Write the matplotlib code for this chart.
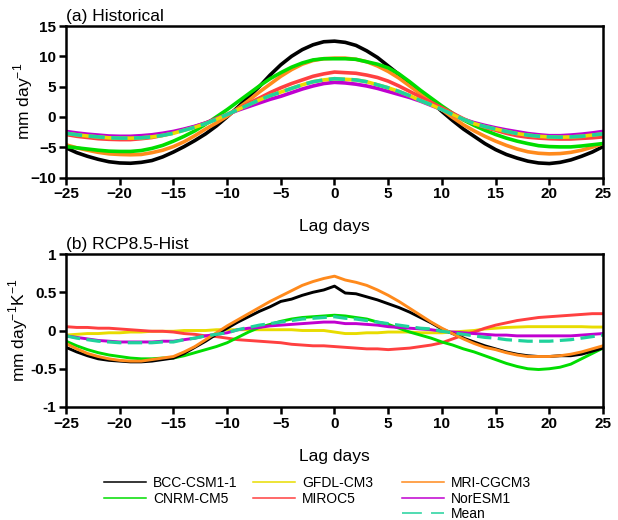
import matplotlib
matplotlib.use("Agg")
import matplotlib.pyplot as plt
from matplotlib.lines import Line2D
import numpy as np

plt.rcParams['font.family'] = ['Liberation Sans', 'DejaVu Sans']

lags = np.arange(-25, 26)

# (a) Historical, mm/day, lag -25..25
hist_bcc = [-5.1, -5.9, -6.5, -7.0, -7.4, -7.6, -7.65, -7.5, -7.2, -6.6, -5.8,
            -4.9, -3.9, -2.8, -1.5, 0.0, 1.6, 3.3, 5.0, 6.9, 8.6,
            10.0, 11.1, 11.9, 12.4, 12.5, 12.3, 11.8, 10.9, 9.8, 8.4,
            7.0, 5.5, 4.0, 2.5, 0.9, -0.6, -2.0, -3.2, -4.4, -5.4,
            -6.2, -6.8, -7.3, -7.6, -7.7, -7.5, -7.1, -6.5, -5.8, -4.9]
hist_cnrm = [-4.9, -5.1, -5.3, -5.5, -5.65, -5.7, -5.7, -5.55, -5.2, -4.7, -4.0,
             -3.2, -2.3, -1.2, 0.0, 1.2, 2.5, 3.8, 5.1, 6.3, 7.3,
             8.2, 8.9, 9.4, 9.6, 9.6, 9.6, 9.5, 9.1, 8.7, 8.1,
             7.1, 5.8, 4.4, 3.1, 1.8, 0.6, -0.5, -1.4, -2.2, -2.9,
             -3.5, -4.0, -4.4, -4.75, -4.9, -4.95, -4.95, -4.8, -4.6, -4.4]
hist_gfdl = [-2.7, -2.95, -3.15, -3.3, -3.45, -3.5, -3.5, -3.45, -3.3, -3.05, -2.7,
             -2.2, -1.7, -1.1, -0.4, 0.4, 1.2, 2.0, 2.8, 3.5, 4.1,
             4.7, 5.3, 5.8, 6.1, 6.3, 6.2, 6.1, 5.8, 5.3, 4.8,
             4.2, 3.5, 2.7, 2.0, 1.2, 0.4, -0.4, -1.1, -1.6, -2.0,
             -2.4, -2.75, -3.0, -3.2, -3.3, -3.35, -3.3, -3.2, -3.0, -2.8]
hist_miroc = [-2.9, -3.2, -3.4, -3.6, -3.7, -3.75, -3.75, -3.6, -3.4, -3.05, -2.6,
              -2.1, -1.6, -1.0, -0.3, 0.4, 1.3, 2.2, 3.1, 4.0, 4.8,
              5.5, 6.1, 6.7, 7.1, 7.4, 7.3, 7.2, 6.9, 6.5, 5.9,
              5.1, 4.2, 3.3, 2.4, 1.5, 0.6, -0.3, -1.1, -1.7, -2.2,
              -2.7, -3.1, -3.35, -3.5, -3.6, -3.65, -3.65, -3.55, -3.45, -3.3]
hist_mri = [-4.6, -5.1, -5.5, -5.85, -6.1, -6.2, -6.25, -6.2, -5.9, -5.5, -4.9,
            -4.1, -3.1, -2.0, -1.0, 0.1, 1.4, 2.7, 4.1, 5.4, 6.7,
            7.8, 8.7, 9.3, 9.6, 9.7, 9.7, 9.5, 9.1, 8.4, 7.5,
            6.4, 5.1, 3.8, 2.5, 1.2, -0.1, -1.3, -2.3, -3.2, -4.0,
            -4.7, -5.3, -5.75, -6.0, -6.1, -6.05, -5.85, -5.5, -5.0, -4.4]
hist_nor = [-2.4, -2.65, -2.85, -3.0, -3.15, -3.2, -3.2, -3.1, -2.95, -2.7, -2.4,
            -2.0, -1.55, -1.0, -0.3, 0.4, 1.1, 1.7, 2.3, 2.9, 3.4,
            4.0, 4.6, 5.1, 5.5, 5.7, 5.6, 5.4, 5.1, 4.7, 4.2,
            3.7, 3.2, 2.6, 1.9, 1.2, 0.4, -0.4, -0.95, -1.4, -1.8,
            -2.15, -2.45, -2.75, -2.95, -3.1, -3.1, -3.0, -2.85, -2.65, -2.4]
hist_mean = [-2.7, -2.95, -3.15, -3.3, -3.45, -3.5, -3.5, -3.45, -3.3, -3.05, -2.7,
             -2.2, -1.7, -1.1, -0.4, 0.4, 1.2, 2.0, 2.8, 3.5, 4.1,
             4.7, 5.3, 5.8, 6.1, 6.3, 6.2, 6.1, 5.8, 5.3, 4.8,
             4.2, 3.5, 2.7, 2.0, 1.2, 0.4, -0.4, -1.1, -1.6, -2.0,
             -2.4, -2.75, -3.0, -3.2, -3.3, -3.35, -3.3, -3.2, -3.0, -2.8]

# (b) RCP8.5 - Hist, mm/day/K, lag -25..25
diff_bcc = [-0.22, -0.28, -0.33, -0.37, -0.39, -0.40, -0.41, -0.41, -0.40, -0.38, -0.36,
            -0.30, -0.22, -0.14, -0.05, 0.03, 0.11, 0.18, 0.25, 0.31, 0.38,
            0.41, 0.46, 0.50, 0.53, 0.58, 0.49, 0.48, 0.44, 0.40, 0.35,
            0.30, 0.24, 0.17, 0.10, 0.02, -0.04, -0.10, -0.15, -0.20, -0.24,
            -0.28, -0.31, -0.33, -0.34, -0.34, -0.33, -0.33, -0.31, -0.27, -0.23]
diff_cnrm = [-0.14, -0.20, -0.25, -0.29, -0.32, -0.34, -0.36, -0.37, -0.37, -0.36, -0.36,
             -0.33, -0.29, -0.25, -0.21, -0.16, -0.09, -0.02, 0.04, 0.08, 0.12,
             0.15, 0.17, 0.18, 0.19, 0.20, 0.19, 0.17, 0.15, 0.11, 0.08,
             0.03, -0.02, -0.06, -0.10, -0.15, -0.19, -0.24, -0.28, -0.33, -0.38,
             -0.43, -0.47, -0.50, -0.51, -0.50, -0.48, -0.44, -0.37, -0.30, -0.23]
diff_gfdl = [-0.06, -0.05, -0.04, -0.04, -0.03, -0.03, -0.02, -0.02, -0.01, -0.01, -0.01,
             0.0, 0.0, 0.0, 0.01, 0.01, 0.01, 0.01, 0.01, 0.01, 0.01,
             0.01, 0.0, 0.0, 0.0, -0.02, -0.04, -0.04, -0.03, -0.03, -0.02,
             -0.02, -0.02, -0.03, -0.03, -0.03, -0.02, -0.01, 0.0, 0.02, 0.03,
             0.04, 0.045, 0.05, 0.05, 0.05, 0.05, 0.05, 0.05, 0.045, 0.045]
diff_miroc = [0.05, 0.04, 0.04, 0.03, 0.03, 0.02, 0.01, 0.0, -0.01, -0.01, -0.02,
              -0.04, -0.05, -0.07, -0.08, -0.10, -0.12, -0.13, -0.14, -0.15, -0.16,
              -0.18, -0.19, -0.20, -0.20, -0.21, -0.22, -0.23, -0.24, -0.24, -0.25,
              -0.24, -0.23, -0.21, -0.19, -0.16, -0.11, -0.06, -0.02, 0.03, 0.07,
              0.10, 0.13, 0.15, 0.17, 0.18, 0.19, 0.20, 0.21, 0.22, 0.22]
diff_mri = [-0.17, -0.24, -0.30, -0.34, -0.37, -0.39, -0.40, -0.40, -0.38, -0.36, -0.34,
            -0.28, -0.21, -0.12, -0.03, 0.06, 0.14, 0.22, 0.30, 0.38, 0.45,
            0.52, 0.59, 0.64, 0.68, 0.71, 0.66, 0.63, 0.59, 0.53, 0.46,
            0.38, 0.29, 0.20, 0.11, 0.03, -0.04, -0.11, -0.17, -0.22, -0.25,
            -0.29, -0.32, -0.34, -0.34, -0.34, -0.33, -0.31, -0.28, -0.24, -0.20]
diff_nor = [-0.07, -0.09, -0.11, -0.13, -0.14, -0.15, -0.15, -0.15, -0.15, -0.14, -0.14,
            -0.12, -0.10, -0.07, -0.05, -0.03, 0.01, 0.03, 0.04, 0.06, 0.07,
            0.08, 0.09, 0.10, 0.11, 0.11, 0.09, 0.09, 0.08, 0.07, 0.05,
            0.04, 0.03, 0.02, 0.01, -0.01, -0.02, -0.03, -0.04, -0.05, -0.06,
            -0.06, -0.07, -0.07, -0.07, -0.07, -0.07, -0.07, -0.06, -0.05, -0.04]
diff_mean = [-0.07, -0.10, -0.12, -0.14, -0.15, -0.16, -0.16, -0.16, -0.16, -0.15, -0.15,
             -0.12, -0.10, -0.07, -0.05, -0.03, 0.01, 0.04, 0.07, 0.09, 0.11,
             0.13, 0.15, 0.16, 0.17, 0.18, 0.16, 0.15, 0.13, 0.11, 0.09,
             0.07, 0.05, 0.03, 0.02, -0.01, -0.03, -0.05, -0.07, -0.09, -0.10,
             -0.12, -0.13, -0.14, -0.14, -0.14, -0.13, -0.12, -0.10, -0.08, -0.06]

names = ["BCC-CSM1-1", "CNRM-CM5", "GFDL-CM3", "MIROC5", "MRI-CGCM3", "NorESM1", "Mean"]
colors = ["black", "#00dd00", "#e8dc00", "#ff4040", "#ff8a1c", "#c000d0", "#20d29c"]
hist = [hist_bcc, hist_cnrm, hist_gfdl, hist_miroc, hist_mri, hist_nor, hist_mean]
diff = [diff_bcc, diff_cnrm, diff_gfdl, diff_miroc, diff_mri, diff_nor, diff_mean]

fig = plt.figure(figsize=(6.18, 5.20), dpi=100)
ax1 = fig.add_axes([66/618, 1-177.5/520, 537/618, 151.5/520])
ax2 = fig.add_axes([66/618, 1-407/520, 537/618, 153/520])


def style(ax, yticks, title, ylabel, label_x):
    ax.set_xlim(-25, 25)
    ax.set_xticks(np.arange(-25, 26, 5))
    ax.set_yticks(yticks)
    ax.set_ylim(yticks[0], yticks[-1])
    ax.tick_params(direction='out', length=5, width=1.8, labelsize=11, pad=2,
                   top=False, right=False)
    for t in ax.get_xticklabels() + ax.get_yticklabels():
        t.set_fontweight('bold')
    for s in ax.spines.values():
        s.set_linewidth(1.8)
    ax.set_xlabel("Lag days", fontsize=12.5, labelpad=13)
    ax.set_ylabel(ylabel, fontsize=12.5)
    ax.yaxis.set_label_coords(label_x/537, 0.5)
    ax.text(0, 1.015, title, transform=ax.transAxes, fontsize=12.5, ha='left', va='bottom')


for i in [0, 4, 1, 3, 5, 2]:
    ax1.plot(lags, hist[i], color=colors[i], lw=2.6)
ax1.plot(lags, hist[6], color=colors[6], lw=2.6, dashes=(4.5, 1.8))
style(ax1, [-10, -5, 0, 5, 10, 15], "(a) Historical", "mm day$^{\\mathregular{-1}}$", -31)

for i in [2, 3, 1, 5, 0, 4]:
    ax2.plot(lags, diff[i], color=colors[i], lw=2.1)
ax2.plot(lags, diff[6], color=colors[6], lw=2.3, dashes=(4.5, 2))
style(ax2, [-1, -0.5, 0, 0.5, 1], "(b) RCP8.5-Hist",
      "mm day$^{\\mathregular{-1}}$K$^{\\mathregular{-1}}$", -36)
ax2.set_yticklabels(["-1", "-0.5", "0", "0.5", "1"], fontweight='bold')

# legend: three fixed-width columns
columns = [[0, 1], [2, 3], [4, 5, 6]]
col_x = [104, 253, 402]
for col, x0 in zip(columns, col_x):
    handles = []
    for i in col:
        ls = (0, (13, 6)) if i == 6 else '-'
        handles.append(Line2D([], [], color=colors[i], lw=1.1, linestyle=ls))
    fig.legend(handles, [names[i] for i in col], loc='upper left',
               bbox_to_anchor=(x0/618, 1-476/520), frameon=False, fontsize=10,
               handlelength=3, handletextpad=0.55, labelspacing=0.12, borderpad=0,
               borderaxespad=0)

fig.savefig("out.png", dpi=100)
